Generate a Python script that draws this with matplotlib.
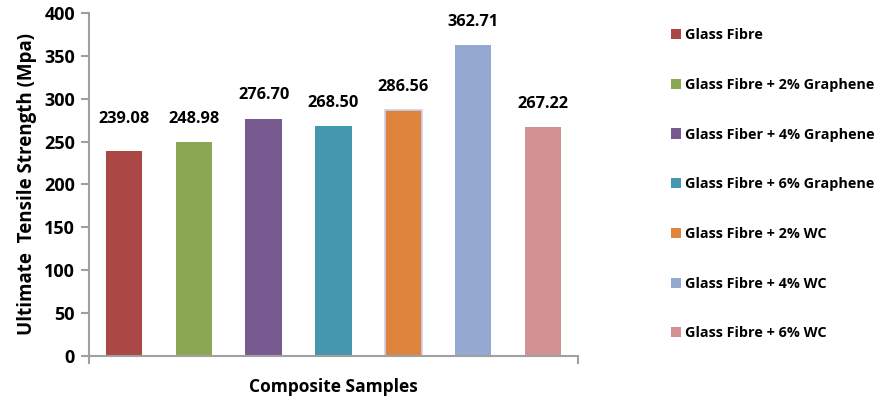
import numpy as np
import matplotlib
matplotlib.use("Agg")
import matplotlib.pyplot as plt
from matplotlib.patches import Patch

plt.rcParams['font.family'] = ['Open Sans', 'DejaVu Sans']
plt.rcParams['font.weight'] = 'bold'

samples = ['Glass Fibre', 'Glass Fibre + 2% Graphene', 'Glass Fiber + 4% Graphene',
           'Glass Fibre + 6% Graphene', 'Glass Fibre + 2% WC', 'Glass Fibre + 4% WC',
           'Glass Fibre + 6% WC']
strength = [239.08, 248.98, 276.70, 268.50, 286.56, 362.71, 267.22]
labels = ['239.08', '248.98', '276.70', '268.50', '286.56', '362.71', '267.22']
colors = ['#AB4744', '#8BA751', '#775A90', '#4398B0', '#DE843C', '#93A9D0', '#D39192']

fig = plt.figure(figsize=(8.8, 4.01), dpi=100)
ax = fig.add_axes([0.101, 0.112, 0.556, 0.856])

x = np.arange(len(strength))
bars = ax.bar(x, strength, width=0.52, color=colors)
bars[4].set_edgecolor('#C8D3EC')
bars[4].set_linewidth(1.2)

# value labels; the first one sits level with its neighbour
for i, (v, t) in enumerate(zip(strength, labels)):
    y = strength[1] + 27 if i == 0 else v + 27
    ax.text(i, y, t, ha='center', va='center', fontsize=11.8, fontweight='bold')

ax.set_xlim(-0.5, len(strength) - 0.5)
ax.set_ylim(0, 400)
ax.set_yticks(np.arange(0, 401, 50))
ax.set_xticks([-0.5, len(strength) - 0.5])
ax.set_xticklabels(['', ''])

grey = '#A0A0A0'
for s in ['top', 'right']:
    ax.spines[s].set_visible(False)
for s in ['left', 'bottom']:
    ax.spines[s].set_color(grey)
    ax.spines[s].set_linewidth(1.5)
ax.tick_params(axis='y', direction='out', length=6, width=1.5, color=grey,
               labelsize=13, pad=4)
ax.tick_params(axis='x', direction='out', length=6, width=1.5, color=grey)
for lbl in ax.get_yticklabels():
    lbl.set_fontweight('bold')

ax.set_ylabel('Ultimate  Tensile Strength (Mpa)', fontsize=13.5, fontweight='bold', labelpad=5)
ax.set_xlabel('Composite Samples', fontsize=12.5, fontweight='bold', labelpad=6)

handles = [Patch(facecolor=c, edgecolor='none') for c in colors]
fig.legend(handles, samples, loc='upper left', bbox_to_anchor=(0.748, 0.962),
           frameon=False, handlelength=0.7, handleheight=0.7,
           handletextpad=0.25, labelspacing=2.47, prop={'weight': 'bold', 'size': 10.4})

fig.savefig('out.png', dpi=100)
